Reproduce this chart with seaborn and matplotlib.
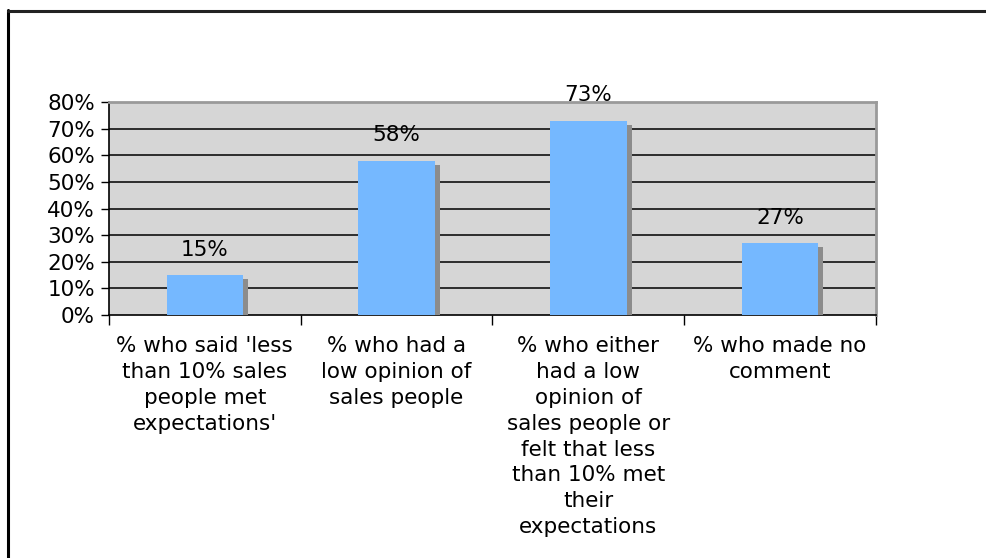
import matplotlib
matplotlib.use("Agg")
import matplotlib.pyplot as plt
import matplotlib.patheffects as pe
from matplotlib.lines import Line2D
import seaborn as sns
import pandas as pd

categories = [
    "% who said 'less\nthan 10% sales\npeople met\nexpectations'",
    "% who had a\nlow opinion of\nsales people",
    "% who either\nhad a low\nopinion of\nsales people or\nfelt that less\nthan 10% met\ntheir\nexpectations",
    "% who made no\ncomment",
]
values = [15, 58, 73, 27]
y_ticks = [0, 10, 20, 30, 40, 50, 60, 70, 80]
y_tick_labels = [f"{v}%" for v in y_ticks]

df = pd.DataFrame({"category": categories, "value": values})

sns.set_theme(style="white")
plt.rcParams["font.family"] = ["DejaVu Sans"]

fig = plt.figure(figsize=(9.87, 5.58), dpi=100)
ax = fig.add_axes([109 / 987, 1 - 315 / 558, (876 - 109) / 987, (315 - 102) / 558])

sns.barplot(data=df, x="category", y="value", color="#75B8FF", width=0.4,
            saturation=1, ax=ax, zorder=3)

for p in ax.patches:
    p.set_edgecolor("none")
    p.set_path_effects([
        pe.SimplePatchShadow(offset=(3.6, -2.9), shadow_rgbFace="#8C8C8C", alpha=1.0),
        pe.Normal(),
    ])

ax.set_facecolor("#D6D6D6")
ax.set_ylim(0, 80)
ax.set_xlim(-0.5, len(categories) - 0.5)
ax.set_yticks(y_ticks)
ax.set_yticklabels(y_tick_labels, fontsize=15.5, color="black")

ax.set_xticks([i + 0.5 for i in range(-1, len(categories))])
ax.set_xticklabels([])
ax.set_xticks(range(len(categories)), minor=True)
ax.set_xticklabels(categories, minor=True, fontsize=15.5, color="black",
                   linespacing=1.37, ha="center", va="top")
ax.tick_params(axis="x", which="minor", length=0, pad=15)
ax.tick_params(axis="x", which="major", direction="out", length=7, width=1,
               color="black", bottom=True)
ax.tick_params(axis="y", direction="out", length=6, width=1, color="black",
               left=True, pad=4)

ax.set_xlabel("")
ax.set_ylabel("")

for v in y_ticks[1:-1]:
    ax.axhline(v, color="#111111", linewidth=1.2, zorder=1.5)

for side in ["left", "bottom"]:
    ax.spines[side].set_color("black")
    ax.spines[side].set_linewidth(1.2)
for side in ["top", "right"]:
    ax.spines[side].set_color("#9A9A9A")
    ax.spines[side].set_linewidth(2)
    ax.spines[side].set_visible(True)

for i, v in enumerate(values):
    ax.annotate(f"{v}%", xy=(i, v), xytext=(0, 11), textcoords="offset points",
                ha="center", va="bottom", fontsize=15.5, color="black",
                annotation_clip=False)

fig.add_artist(Line2D([8.5 / 987, 8.5 / 987], [0, 1 - 10 / 558], color="black",
                      linewidth=2.2, transform=fig.transFigure))
fig.add_artist(Line2D([8.5 / 987, 1], [1 - 11 / 558, 1 - 11 / 558], color="#222222",
                      linewidth=2.2, transform=fig.transFigure))

fig.savefig("out.png", dpi=100, facecolor="white")
